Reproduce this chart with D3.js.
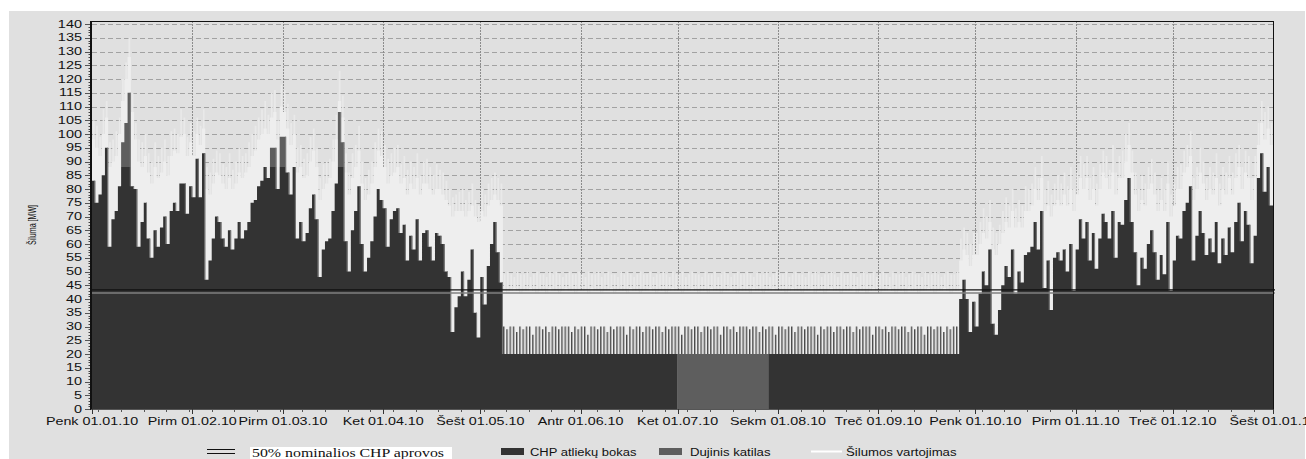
<!DOCTYPE html>
<html>
<head>
<meta charset="utf-8">
<script src="https://cdn.jsdelivr.net/npm/d3@7"></script>
<style>
  body { margin: 0; background: #fff; }
  svg { display: block; }
  text { font-family: "Liberation Sans", Arial, sans-serif; fill: #111; }
</style>
</head>
<body>
<svg id="chart" width="1306" height="459"></svg>
<script>
// month tick labels (Lithuanian weekday + date)
var monthLabels = ["Penk 01.01.10", "Pirm 01.02.10", "Pirm 01.03.10", "Ket 01.04.10", "Šešt 01.05.10",
  "Antr 01.06.10", "Ket 01.07.10", "Sekm 01.08.10", "Treč 01.09.10", "Penk 01.10.10",
  "Pirm 01.11.10", "Treč 01.12.10", "Šešt 01.01.11"];

// daily CHP production, MW (one block per month)
var chp = [
  83,75,78,85,95,59,69,72,81,88,88,88,81,80,59,68,75,62,55,65,59,66,70,60,72,75,72,82,82,71,81,
  77,91,77,93,47,54,62,70,68,62,59,65,58,62,68,62,65,68,75,76,81,83,88,84,88,88,80,88,
  88,86,78,88,62,68,61,64,73,78,69,48,58,61,62,72,82,88,88,61,50,65,72,81,60,50,55,61,70,80,76,
  73,59,69,72,73,64,67,54,63,58,69,54,64,65,59,54,64,63,60,50,48,28,37,41,50,41,47,58,35,26,
  // May
  48,38,52,60,68,57,46,
  20,20,20,20,20,20,20,20,20,20,
  20,20,20,20,20,20,20,20,20,20,
  20,20,20,20,
  // Jun
  20,20,20,20,20,20,20,20,20,20,
  20,20,20,20,20,20,20,20,20,20,
  20,20,20,20,20,20,20,20,20,20,
  // Jul (CHP stopped, gas boiler runs)
  0,0,0,0,0,0,0,0,0,0,
  0,0,0,0,0,0,0,0,0,0,
  0,0,0,0,0,0,0,0,
  20,20,20,
  // Aug
  20,20,20,20,20,20,20,20,20,20,
  20,20,20,20,20,20,20,20,20,20,
  20,20,20,20,20,20,20,20,20,20,
  20,
  // Sep
  20,20,20,20,20,20,20,20,20,20,
  20,20,20,20,20,20,20,20,20,20,
  20,20,20,20,20,
  40,47,40,28,39,
  30,42,50,45,58,31,27,36,45,52,48,58,42,50,46,56,57,59,68,58,72,44,54,36,55,57,54,58,50,60,43,
  58,69,62,68,54,64,51,62,71,68,62,72,55,68,67,76,84,68,57,45,55,51,60,65,57,47,56,49,68,43,
  54,63,62,72,75,81,54,63,72,64,56,62,57,68,53,62,56,66,57,68,75,61,72,67,53,63,84,93,79,88,74
];

// gas boiler [day of year (0-based), MW] stacked on CHP
var gasDays = [[9,9],[10,16],[11,27],[55,7],[56,7],[58,11],[59,11],[76,20],[77,9],
  [181,20],[182,20],[183,20],[184,20],[185,20],[186,20],[187,20],[188,20],[189,20],[190,20],
  [191,20],[192,20],[193,20],[194,20],[195,20],[196,20],[197,20],[198,20],[199,20],[200,20],
  [201,20],[202,20],[203,20],[204,20],[205,20],[206,20],[207,20],[208,20]];

// heat consumption: typical daily level and daily hourly peak, MW
var heat = [
  98,95,92,100,106,88,90,92,100,112,120,128,108,98,90,88,92,86,82,88,84,86,90,85,92,94,93,99,100,92,97,
  92,100,96,102,80,78,82,86,85,82,80,84,80,82,86,84,86,88,92,94,98,100,102,100,106,108,98,110,
  108,102,96,100,86,88,84,85,90,94,88,76,80,82,84,90,98,112,106,86,78,84,88,94,82,76,78,82,88,94,92,
  88,82,85,86,88,82,84,78,82,80,84,78,82,82,80,78,80,80,78,76,74,70,72,72,72,70,72,74,70,68,
  72,70,74,76,78,76,74,43,42,43,44,43,42,43,43,44,43,42,43,43,42,44,43,43,42,43,44,43,43,42,43,
  43,43,42,44,43,43,42,43,43,44,42,43,43,43,42,44,43,43,42,43,43,44,43,42,43,43,42,43,44,43,
  43,42,43,43,44,43,42,43,43,42,44,43,43,42,43,43,44,43,42,43,43,43,42,44,43,43,42,43,43,44,43,
  43,43,42,43,44,43,43,42,43,43,44,42,43,43,42,43,44,43,43,42,43,43,43,44,42,43,43,42,43,44,43,
  42,43,43,44,43,42,43,43,42,44,43,43,42,43,43,44,43,42,43,43,44,43,42,43,43,54,58,56,52,56,
  56,60,64,62,68,58,56,60,64,68,66,72,66,68,66,72,72,74,80,76,84,72,74,70,74,76,74,78,74,80,72,
  78,84,80,84,76,80,74,80,86,84,80,86,78,84,84,90,96,86,78,72,76,74,80,82,78,72,76,72,82,70,
  74,80,80,86,88,92,76,80,86,82,76,80,78,84,74,80,78,84,78,84,88,80,86,84,76,84,96,104,98,102,96
];
var heatPeak = [
  105,103,99,109,112,97,98,101,106,120,126,135,115,104,98,97,100,93,90,97,92,95,98,92,101,102,100,109,106,99,104,
  101,106,103,109,88,86,91,94,93,89,88,93,87,90,95,92,93,97,100,103,106,109,112,107,115,116,105,118,
  116,111,104,107,95,96,91,93,99,102,95,84,89,90,91,98,107,123,114,93,86,93,96,103,90,84,87,90,97,102,101,
  96,91,93,95,96,89,92,87,90,88,93,85,90,91,88,85,89,87,86,83,80,77,78,79,80,76,79,82,76,74,
  80,78,82,84,86,84,82,49,50,49,48,50,49,49,50,48,49,50,49,49,48,50,49,50,49,48,49,50,49,49,50,
  49,48,50,49,49,50,48,49,50,49,49,48,50,49,50,49,48,49,50,49,49,50,48,49,49,50,49,48,50,49,
  49,50,48,49,50,49,49,48,50,49,49,50,48,49,50,49,48,49,50,49,49,50,49,48,50,49,49,50,48,49,50,
  49,49,50,48,49,50,49,49,48,50,49,50,49,48,49,49,50,49,48,50,49,49,50,49,48,49,50,49,49,50,48,
  49,50,49,48,50,49,49,50,48,49,50,49,49,48,50,49,49,50,49,48,49,50,49,49,50,62,66,64,60,64,
  64,68,73,70,76,66,64,67,72,77,74,80,73,76,74,81,80,82,88,84,92,80,83,78,82,85,82,86,81,88,80,
  86,92,89,92,84,88,82,89,94,92,87,96,86,92,94,100,104,94,86,80,85,82,88,91,86,80,84,80,90,78,
  82,88,89,94,96,101,84,88,95,90,84,88,86,93,82,88,86,92,86,93,96,88,94,92,84,92,104,112,108,110,104
];

// summer: daily hourly peak of CHP output, from day 127 (7 May) to day 267
var summerStart = 127;
var chpPeakSummer = [
  30,29,30,30,28,30,29,30,30,27,30,30,29,30,28,30,30,29,30,30,30,28,30,29,30,30,27,30,30,29,
  30,30,28,30,29,30,30,30,27,30,29,30,30,28,30,30,29,30,30,28,30,29,30,30,30,27,30,30,29,30,
  30,28,30,30,29,30,30,27,30,30,29,30,28,30,30,30,29,30,30,28,30,29,30,30,27,30,30,29,30,30,
  28,30,30,29,30,30,30,27,30,29,30,30,28,30,30,29,30,30,28,30,29,30,30,30,27,30,30,29,30,28,
  30,30,29,30,30,28,30,29,30,30,27,30,30,29,30,30,28,30,29,30,30
];

var halfNominal = 43.3;   // 50% of nominal CHP output, MW
var yTicks = d3.range(0, 141, 5);

if (chp.length != 365 || heat.length != 365 || heatPeak.length != 365)
  throw new Error("lengths " + chp.length + " " + heat.length + " " + heatPeak.length);

var svg = d3.select("#chart");
var plotLeft = 92, plotRight = 1273, plotTop = 21, plotBottom = 409;

var start = new Date(Date.UTC(2010, 0, 1)), end = new Date(Date.UTC(2011, 0, 1));
var days = d3.utcDay.range(start, end);
var monthStarts = d3.utcMonth.range(start, d3.utcDay.offset(end, 1));

var x = d3.scaleUtc().domain([start, end]).range([plotLeft, plotRight]);
var y = d3.scaleLinear().domain([0, 141.1]).range([plotBottom, plotTop]);

var gas = days.map(function() { return 0; });
gasDays.forEach(function(g) { gas[g[0]] = g[1]; });

var rows = days.map(function(d, i) {
  var si = i - summerStart;
  return {
    i: i,
    x0: x(d), x1: x(d3.utcDay.offset(d, 1)),
    chp: chp[i], gas: gas[i], total: chp[i] + gas[i],
    heat: heat[i], heatPeak: heatPeak[i],
    chpPeak: (si >= 0 && si < chpPeakSummer.length) ? chpPeakSummer[si] : null
  };
});
// closing point so step areas reach the end of the last day
var steps = rows.concat([Object.assign({}, rows[rows.length - 1], { x0: x(end) })]);

function stepArea(lo, hi) {
  return d3.area().curve(d3.curveStepAfter)
      .x(function(d) { return d.x0; })
      .y0(lo).y1(hi);
}

// background
svg.append("rect").attr("x", 9).attr("y", 11).attr("width", 1296).attr("height", 448).attr("fill", "#e0e0e0");

// grid
svg.append("g").selectAll("line").data(yTicks.slice(1)).join("line")
    .attr("x1", plotLeft).attr("x2", plotRight)
    .attr("y1", function(d) { return Math.round(y(d)) + 0.5; })
    .attr("y2", function(d) { return Math.round(y(d)) + 0.5; })
    .attr("stroke", "#a2a2a2").attr("stroke-dasharray", "5,3");

svg.append("g").selectAll("line").data(monthStarts.slice(1, 12)).join("line")
    .attr("x1", function(d) { return Math.round(x(d)) + 0.5; })
    .attr("x2", function(d) { return Math.round(x(d)) + 0.5; })
    .attr("y1", plotTop).attr("y2", plotBottom)
    .attr("stroke", "#8c8c8c").attr("stroke-dasharray", "2,1");

var bars = svg.append("g");

// consumption peaks (thin streaks)
bars.append("g").selectAll("rect").data(rows).join("rect")
    .attr("x", function(d) { return d.x0 + 0.9; })
    .attr("width", 1.7)
    .attr("y", function(d) { return y(d.heatPeak); })
    .attr("height", function(d) { return plotBottom - y(d.heatPeak); })
    .attr("fill", "#e9e9e9");

// consumption typical level
bars.append("path").datum(steps)
    .attr("d", stepArea(plotBottom, function(d) { return y(d.heat); }))
    .attr("fill", "#eeeeee");

// summer CHP hourly peaks
var peaks = rows.filter(function(d) { return d.chpPeak != null; });
bars.append("g").selectAll("rect").data(peaks).join("rect")
    .attr("x", function(d) { return d.x0 + 1.1; })
    .attr("width", 0.9)
    .attr("y", function(d) { return y(d.chpPeak); })
    .attr("height", function(d) { return y(d.total) - y(d.chpPeak); })
    .attr("fill", "#9a9a9a");
bars.append("g").selectAll("rect").data(peaks).join("rect")
    .attr("x", function(d) { return d.x0 + 0.2; })
    .attr("width", 0.9)
    .attr("y", function(d) { return y(d.chpPeak); })
    .attr("height", function(d) { return y(d.total) - y(d.chpPeak); })
    .attr("fill", "#3a3a3a");

// gas boiler (stacked on CHP), then CHP
bars.append("path").datum(steps)
    .attr("d", stepArea(function(d) { return y(d.chp); }, function(d) { return y(d.total); }))
    .attr("fill", "#5e5e5e");
bars.append("path").datum(steps)
    .attr("d", stepArea(plotBottom, function(d) { return y(d.chp); }))
    .attr("fill", "#333333");

// gray fringe on the exposed right edge of taller bars
var edges = rows.filter(function(d) {
  return d.i < rows.length - 1 && d.chpPeak == null && d.total > rows[d.i + 1].total;
});
bars.append("g").selectAll("line").data(edges).join("line")
    .attr("x1", function(d) { return d.x1 - 0.5; })
    .attr("x2", function(d) { return d.x1 - 0.5; })
    .attr("y1", function(d) { return y(d.total); })
    .attr("y2", function(d) { return y(rows[d.i + 1].total); })
    .attr("stroke", "#7c7c7c").attr("stroke-width", 1);

// 50% nominal CHP line (double)
svg.append("line").attr("x1", plotLeft - 1).attr("x2", plotRight + 2)
    .attr("y1", y(halfNominal)).attr("y2", y(halfNominal))
    .attr("stroke", "#111").attr("stroke-width", 1.3);
svg.append("line").attr("x1", plotLeft - 1).attr("x2", plotRight + 2)
    .attr("y1", y(halfNominal) + 3).attr("y2", y(halfNominal) + 3)
    .attr("stroke", "#808080").attr("stroke-opacity", 0.75).attr("stroke-width", 2);

// frame
svg.append("line").attr("x1", plotLeft - 1).attr("x2", plotRight).attr("y1", plotTop + 0.5).attr("y2", plotTop + 0.5).attr("stroke", "#111");
svg.append("line").attr("x1", plotRight + 0.5).attr("x2", plotRight + 0.5).attr("y1", plotTop).attr("y2", plotBottom).attr("stroke", "#111");
svg.append("line").attr("x1", 91).attr("x2", 91).attr("y1", plotTop).attr("y2", plotBottom + 1).attr("stroke", "#111").attr("stroke-width", 2);

// y axis ticks
svg.append("g").selectAll("line").data(d3.range(0, 141)).join("line")
    .attr("x1", 88.5).attr("x2", 90)
    .attr("y1", function(d) { return Math.round(y(d)) + 0.5; })
    .attr("y2", function(d) { return Math.round(y(d)) + 0.5; })
    .attr("stroke", "#444");
svg.append("g").selectAll("line").data(yTicks).join("line")
    .attr("x1", 85).attr("x2", 90)
    .attr("y1", function(d) { return Math.round(y(d)) + 0.5; })
    .attr("y2", function(d) { return Math.round(y(d)) + 0.5; })
    .attr("stroke", "#555");
svg.append("g").selectAll("text").data(yTicks).join("text")
    .attr("transform", function(d) { return "translate(82," + y(d) + ") scale(1.45,1)"; })
    .attr("text-anchor", "end").attr("dy", "0.36em")
    .style("font-size", "10px")
    .text(function(d) { return d; });

// x axis
svg.append("line").attr("x1", 91).attr("x2", plotRight + 1).attr("y1", plotBottom + 0.5).attr("y2", plotBottom + 0.5).attr("stroke", "#555");
svg.append("g").selectAll("line").data(d3.utcWeek.range(start, end)).join("line")
    .attr("x1", function(d) { return Math.round(x(d)) + 0.5; })
    .attr("x2", function(d) { return Math.round(x(d)) + 0.5; })
    .attr("y1", plotBottom).attr("y2", plotBottom + 3)
    .attr("stroke", "#555");
svg.append("g").selectAll("line").data(monthStarts).join("line")
    .attr("x1", function(d) { return Math.round(x(d)) + 0.5; })
    .attr("x2", function(d) { return Math.round(x(d)) + 0.5; })
    .attr("y1", plotBottom).attr("y2", plotBottom + 5)
    .attr("stroke", "#333");
svg.append("g").selectAll("text").data(monthStarts).join("text")
    .attr("transform", function(d) { return "translate(" + x(d) + ",425) scale(1.3,1)"; })
    .attr("text-anchor", "middle")
    .style("font-size", "11px")
    .text(function(d, i) { return monthLabels[i]; });

// y title
svg.append("text")
    .attr("transform", "translate(36,225) rotate(-90)")
    .attr("text-anchor", "middle")
    .attr("textLength", 40).attr("lengthAdjust", "spacingAndGlyphs")
    .style("font-size", "10px")
    .text("Šiluma [MW]");

// legend
var lg = svg.append("g");
lg.append("line").attr("x1", 207).attr("x2", 235).attr("y1", 449.5).attr("y2", 449.5).attr("stroke", "#111");
lg.append("line").attr("x1", 207).attr("x2", 235).attr("y1", 453.5).attr("y2", 453.5).attr("stroke", "#111");
lg.append("rect").attr("x", 250).attr("y", 447).attr("width", 202).attr("height", 14).attr("fill", "#fff");
lg.append("text").attr("x", 252).attr("y", 457)
    .attr("textLength", 192).attr("lengthAdjust", "spacingAndGlyphs")
    .style("font-family", "'Liberation Serif', 'Times New Roman', serif").style("font-size", "12px")
    .text("50% nominalios CHP aprovos");

lg.append("rect").attr("x", 501).attr("y", 448).attr("width", 23).attr("height", 7).attr("fill", "#333");
lg.append("text").attr("transform", "translate(530,455.5) scale(1.18,1)").style("font-size", "11px").text("CHP atliekų bokas");
lg.append("rect").attr("x", 659).attr("y", 448).attr("width", 23).attr("height", 7).attr("fill", "#5e5e5e");
lg.append("text").attr("transform", "translate(690,455.5) scale(1.2,1)").style("font-size", "11px").text("Dujinis katilas");
lg.append("line").attr("x1", 811).attr("x2", 842).attr("y1", 451.5).attr("y2", 451.5).attr("stroke", "#fff").attr("stroke-width", 2);
lg.append("text").attr("transform", "translate(846,455.5) scale(1.2,1)").style("font-size", "11px").text("Šilumos vartojimas");
</script>
</body>
</html>
